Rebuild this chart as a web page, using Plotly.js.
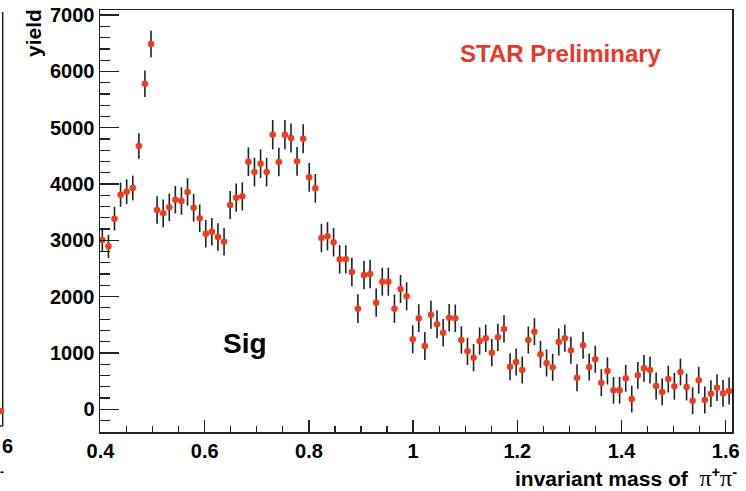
<!DOCTYPE html>
<html>
<head>
<meta charset="utf-8">
<script src="https://cdn.plot.ly/plotly-3.0.1.min.js"></script>
<style>html,body{margin:0;padding:0;background:#fff;}#chart{width:746px;height:491px;}</style>
</head>
<body>
<div id="chart"></div>
<script>
// invariant mass bin centres (GeV/c^2)
var mass = [0.4035,0.4152,0.4268,0.4385,0.4502,0.4619,0.4736,0.4852,0.4969,0.5086,
0.5203,0.5320,0.5436,0.5553,0.5670,0.5787,0.5904,0.6020,0.6137,0.6254,
0.6371,0.6488,0.6604,0.6721,0.6838,0.6955,0.7072,0.7188,0.7305,0.7422,
0.7539,0.7656,0.7772,0.7889,0.8006,0.8123,0.8240,0.8356,0.8473,0.8590,
0.8707,0.8824,0.8940,0.9057,0.9174,0.9291,0.9408,0.9524,0.9641,0.9758,
0.9875,0.9992,1.0108,1.0225,1.0342,1.0459,1.0576,1.0692,1.0809,1.0926,
1.1043,1.1160,1.1276,1.1393,1.1510,1.1627,1.1744,1.1860,1.1977,1.2094,
1.2211,1.2328,1.2444,1.2561,1.2678,1.2795,1.2912,1.3028,1.3145,1.3262,
1.3379,1.3496,1.3612,1.3729,1.3846,1.3963,1.4080,1.4196,1.4313,1.4430,
1.4547,1.4664,1.4780,1.4897,1.5014,1.5131,1.5248,1.5364,1.5481,1.5598,
1.5715,1.5832,1.5948,1.6065];
// signal yield
var yieldVals = [3005,2893,3384,3810,3863,3929,4675,5782,6487,3538,
3479,3586,3721,3698,3858,3579,3391,3117,3153,3059,
2975,3627,3757,3781,4396,4213,4361,4213,4876,4391,
4876,4817,4403,4805,4119,3923,3041,3071,2964,2662,
2662,2437,1785,2384,2401,1892,2265,2265,1785,2135,
2005,1242,1615,1123,1679,1508,1359,1625,1615,1229,
1028,915,1211,1259,1004,1277,1425,755,838,696,
1229,1377,975,821,744,1194,1259,1046,560,1135,
750,886,471,679,336,336,549,181,602,726,
696,412,306,536,407,661,394,151,513,163,
275,382,282,323];
// statistical errors
var yieldErr = [205,205,210,215,220,220,225,235,237,245,
245,245,245,245,245,245,245,245,245,245,
245,250,250,250,255,255,255,255,260,255,
260,258,255,258,255,255,252,252,252,252,
252,252,255,252,252,252,250,250,252,250,
250,248,248,248,248,248,245,245,245,245,
242,242,242,242,242,242,242,240,240,240,
240,240,240,240,240,240,240,240,240,240,
240,240,240,240,238,238,238,238,238,238,
238,238,238,238,238,238,238,238,238,238,
238,238,238,238];
var PI = "<span style=\"font-family:'Liberation Serif';font-weight:normal;font-size:24px\">π</span>";
var xTitle = "invariant mass of  " + PI + "<sup>+</sup>" + PI + "<sup>-</sup>";

var FONT = "'Liberation Sans', Arial, sans-serif";
var trace = {
  type: 'scatter', mode: 'markers',
  x: mass, y: yieldVals,
  error_y: {type: 'data', array: yieldErr, visible: true, color: '#222', thickness: 1.6, width: 0},
  marker: {color: '#f03c1e', size: 6.5},
  cliponaxis: false,
  hoverinfo: 'x+y'
};
function px(x){return (x-100)/632;}
function py(y){return (432-y)/422;}
var layout = {
  width: 746, height: 491,
  margin: {l: 100, r: 14, t: 10, b: 59},
  paper_bgcolor: '#fff', plot_bgcolor: '#fff',
  showlegend: false,
  font: {family: FONT, color: '#000'},
  xaxis: {
    range: [0.399, 1.612], tickmode: 'linear', tick0: 0.4, dtick: 0.2,
    showline: true, linecolor: '#222', linewidth: 1.5, mirror: true,
    ticks: 'inside', ticklen: 12, tickwidth: 1.4, tickcolor: '#222',
    showgrid: false, zeroline: false,
    tickfont: {family: FONT, size: 20, color: '#000', weight: 'bold'},
    minor: {tick0: 0.4, dtick: 0.05, ticks: 'inside', ticklen: 6, tickwidth: 1.2, tickcolor: '#222', showgrid: false}
  },
  yaxis: {
    range: [-405, 7091], tickmode: 'linear', tick0: 0, dtick: 1000,
    showline: true, linecolor: '#222', linewidth: 1.5, mirror: true,
    ticks: 'inside', ticklen: 19, tickwidth: 1.4, tickcolor: '#222',
    showgrid: false, zeroline: false,
    tickfont: {family: FONT, size: 20, color: '#000', weight: 'bold'},
    minor: {tick0: 0, dtick: 200, ticks: 'inside', ticklen: 10, tickwidth: 1.2, tickcolor: '#222', showgrid: false}
  },
  shapes: [
    {type: 'line', xref: 'paper', yref: 'paper', x0: px(2.7), x1: px(2.7), y0: py(12), y1: py(426), line: {color: '#222', width: 1.5}},
    {type: 'line', xref: 'paper', yref: 'paper', x0: px(-1), x1: px(2.7), y0: py(426), y1: py(426), line: {color: '#222', width: 1.5}},
    {type: 'circle', xref: 'paper', yref: 'paper', x0: px(-2), x1: px(4), y0: py(414), y1: py(408), fillcolor: '#f03c1e', line: {width: 0}}
  ],
  annotations: [
    {xref: 'paper', yref: 'paper', x: px(34), y: py(33), text: 'yield', textangle: -90, showarrow: false,
     xanchor: 'center', yanchor: 'middle', font: {family: FONT, size: 21, color: '#000', weight: 'bold'}},
    {xref: 'paper', yref: 'paper', x: px(561), y: py(54), text: 'STAR Preliminary', showarrow: false,
     xanchor: 'center', yanchor: 'middle', font: {family: FONT, size: 24, color: '#e8392a', weight: 'bold'}},
    {xref: 'paper', yref: 'paper', x: px(245), y: py(343), text: 'Sig', showarrow: false,
     xanchor: 'center', yanchor: 'middle', font: {family: FONT, size: 28, color: '#000', weight: 'bold'}},
    {xref: 'paper', yref: 'paper', x: px(739), y: py(477), text: xTitle, showarrow: false,
     xanchor: 'right', yanchor: 'middle', font: {family: FONT, size: 21, color: '#000', weight: 'bold'}},
    {xref: 'paper', yref: 'paper', x: px(7), y: py(446), text: '6', showarrow: false,
     xanchor: 'center', yanchor: 'middle', font: {family: FONT, size: 20, color: '#000', weight: 'bold'}},
    {xref: 'paper', yref: 'paper', x: px(2), y: py(472), text: '-', showarrow: false,
     xanchor: 'center', yanchor: 'middle', font: {family: FONT, size: 12, color: '#000', weight: 'bold'}}
  ]
};
Plotly.newPlot('chart', [trace], layout, {displayModeBar: false, staticPlot: true});
</script>
</body>
</html>
